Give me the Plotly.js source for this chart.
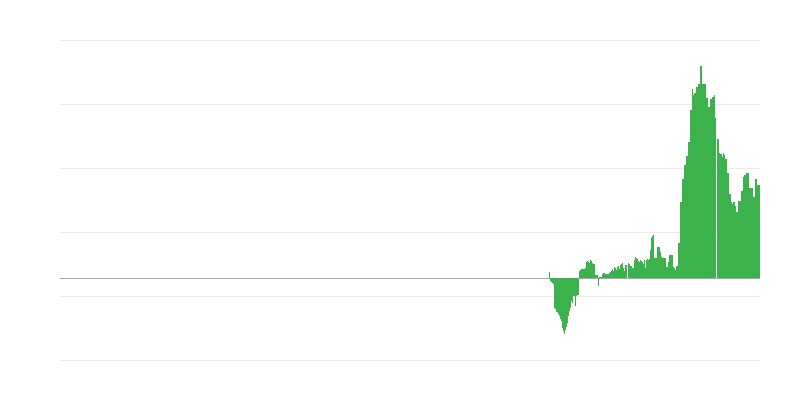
<!DOCTYPE html>
<html>
<head>
<meta charset="utf-8">
<script src="https://cdn.plot.ly/plotly-3.0.1.min.js"></script>
<style>
  body { margin: 0; background: #fff; }
  #chart { width: 800px; height: 400px; }
</style>
</head>
<body>
<div id="chart"></div>
<script>
// daily values (one bar per day, most recent last)
let leadDays = 489
let values = [
    6, -3, -4, -5, -6, -30, -31, -34, -34, -36,
    -38, -41, -43, -50, -53, -56, -52, -49, -45, -38,
    -33, -30, -23, -25, -18, -18, -28, -18, -17, -17,
    7, 8, 9, 9, 9, 9, 10, 16, 17, 16,
    15, 18, 17, 15, 14, 14, 3, 3, 3, -8,
    1, 1, 1, 4, 5, 5, 4, 4, 4, 4,
    5, 6, 7, 9, 7, 11, 10, 8, 11, 12,
    9, 13, 14, 15, 10, 7, 13, 13, 0, 15,
    14, 12, 12, 10, 10, 18, 21, 20, 19, 17,
    16, 18, 17, 16, 14, 18, 10, 18, 19, 18,
    19, 28, 40, 42, 43, 20, 20, 20, 31, 31,
    31, 26, 21, 20, 20, 20, 20, 11, 11, 16,
    23, 23, 23, 23, 11, 10, 8, 12, 12, 35,
    35, 76, 76, 99, 99, 113, 113, 122, 122, 136,
    136, 168, 168, 189, 183, 185, 185, 191, 191, 194,
    194, 212, 212, 194, 194, 194, 194, 180, 180, 171,
    171, 179, 179, 181, 181, 183, 160, 0, 139, 139,
    125, 124, 124, 121, 125, 123, 119, 119, 105, 105,
    84, 84, 76, 74, 76, 76, 72, 66, 66, 77,
    77, 77, 87, 87, 101, 103, 103, 105, 105, 105,
    90, 90, 90, 90, 81, 81, 99, 99, 93, 93,
    93
]

let data = [{
    y: values,
    type: 'bar',
    marker: { color: '#3bb24b', line: { width: 0 } },
    hoverinfo: 'y'
}]

let layout = {
    width: 800,
    height: 400,
    margin: { l: 60, r: 40, t: 30, b: 30 },
    paper_bgcolor: '#fff',
    plot_bgcolor: '#fff',
    showlegend: false,
    bargap: 0,
    xaxis: {
        range: [-leadDays - 0.5, values.length - 0.5],
        showgrid: false,
        zeroline: false,
        showticklabels: false,
        ticks: ''
    },
    yaxis: {
        range: [-92, 248],
        tick0: -18,
        dtick: 64,
        showticklabels: false,
        ticks: '',
        gridcolor: '#ececec',
        gridwidth: 1,
        zeroline: true,
        zerolinecolor: '#a8a8a8',
        zerolinewidth: 1
    }
}

Plotly.newPlot('chart', data, layout, { displayModeBar: false, staticPlot: true })
</script>
</body>
</html>
